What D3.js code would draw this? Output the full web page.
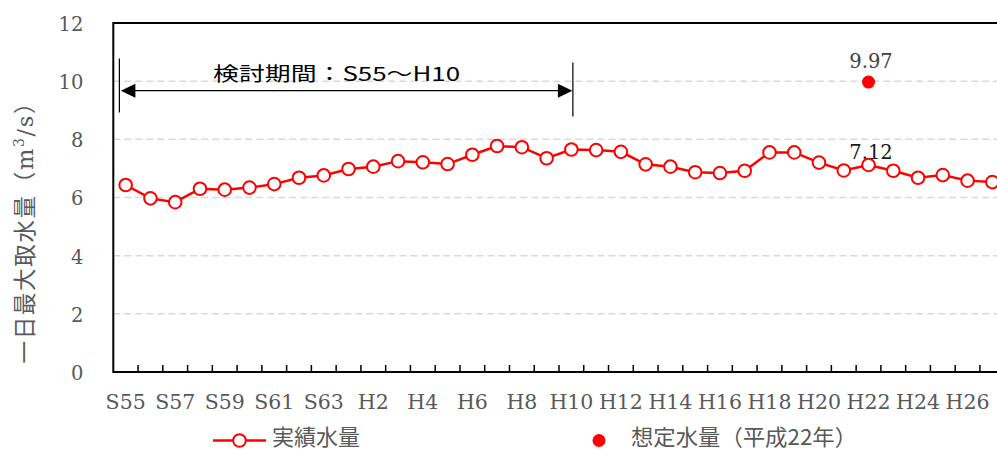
<!DOCTYPE html>
<html><head><meta charset="utf-8">
<script src="https://cdn.jsdelivr.net/npm/d3@7"></script>
<style>
html,body{margin:0;padding:0;background:#fff;overflow:hidden;}
svg{display:block;}
</style></head>
<body>
<svg id="c" width="997" height="450"></svg>
<script>
const categories = ["S55","S56","S57","S58","S59","S60","S61","S62","S63",
  "H1","H2","H3","H4","H5","H6","H7","H8","H9","H10","H11","H12","H13","H14",
  "H15","H16","H17","H18","H19","H20","H21","H22","H23","H24","H25","H26","H27"];
const actual = [6.43,5.97,5.84,6.30,6.27,6.34,6.46,6.68,6.76,
  6.98,7.06,7.25,7.21,7.15,7.47,7.77,7.73,7.35,7.65,7.63,7.57,7.14,7.06,
  6.87,6.84,6.92,7.55,7.55,7.20,6.93,7.12,6.92,6.68,6.77,6.58,6.53];
const plannedCategory = "H22";
const plannedValue = 9.97;
const yTicks = [0,2,4,6,8,10,12];
const xLabels = ["S55","S57","S59","S61","S63","H2","H4","H6","H8","H10","H12","H14","H16","H18","H20","H22","H24","H26"];
const periodStart = "S55", periodEnd = "H10";
const periodLabel = "検討期間：S55～H10";
const seriesNames = ["実績水量","想定水量（平成22年）"];

const svg = d3.select("#c");
const L = 113.3, R = 1004.7, T = 23, B = 372;
const x = d3.scaleBand().domain(categories).range([L, R]).padding(0);
const y = d3.scaleLinear().domain([0, 12]).range([B, T]);
const cx = c => x(c) + x.bandwidth() / 2;
const red = "#ff0000";
const gray = "#595959";
const serif = "'DejaVu Serif', serif";
const jp = "'Noto Sans CJK JP', sans-serif";

// grid
svg.append("g").selectAll("line").data(yTicks.filter(v => v > 0 && v < 12)).join("line")
  .attr("x1", L).attr("x2", R).attr("y1", d => y(d)).attr("y2", d => y(d))
  .attr("stroke", "#d9d9d9").attr("stroke-width", 1.5).attr("stroke-dasharray", "7,4");

// y tick labels
const ya = svg.append("g").attr("transform", `translate(${L},0)`)
  .call(d3.axisLeft(y).tickValues(yTicks).tickSize(0).tickPadding(30).tickFormat(d3.format("d")));
ya.select(".domain").remove();
ya.selectAll("text").attr("font-family", serif).attr("font-size", 19.5).attr("fill", gray).attr("dy", "0.38em");

// x tick labels
const xa = svg.append("g").attr("transform", `translate(0,${B})`)
  .call(d3.axisBottom(x).tickValues(xLabels).tickSize(0).tickPadding(22));
xa.select(".domain").remove();
xa.selectAll("text").attr("font-family", serif).attr("font-size", 20.5).attr("fill", gray);

// tick marks at category boundaries (inward)
svg.append("g").selectAll("line").data(categories.slice(1)).join("line")
  .attr("x1", d => x(d)).attr("x2", d => x(d)).attr("y1", B).attr("y2", B - 7)
  .attr("stroke", "#000").attr("stroke-width", 1.5);

// frame
svg.append("path").attr("d", `M${R},${T}H${L}V${B}H${R}`)
  .attr("fill", "none").attr("stroke", "#000").attr("stroke-width", 2);

// series line
svg.append("path").datum(actual)
  .attr("d", d3.line().x((d, i) => cx(categories[i])).y(d => y(d)))
  .attr("fill", "none").attr("stroke", red).attr("stroke-width", 2.5);
svg.append("g").selectAll("circle").data(actual).join("circle")
  .attr("cx", (d, i) => cx(categories[i])).attr("cy", d => y(d)).attr("r", 6.3)
  .attr("fill", "#fff").attr("stroke", red).attr("stroke-width", 2);

// planned point
svg.append("circle").attr("cx", cx(plannedCategory)).attr("cy", y(plannedValue)).attr("r", 6.5).attr("fill", red);
svg.append("text").attr("x", cx(plannedCategory) + 2.5).attr("y", y(plannedValue) - 14)
  .attr("text-anchor", "middle").attr("font-family", serif).attr("font-size", 19.5).attr("fill", "#404040")
  .text(plannedValue.toFixed(2));
const i22 = categories.indexOf(plannedCategory);
svg.append("text").attr("x", cx(plannedCategory) + 2.5).attr("y", y(actual[i22]) - 6)
  .attr("text-anchor", "middle").attr("font-family", serif).attr("font-size", 19.5).attr("fill", "#1a1a1a")
  .text(actual[i22].toFixed(2));

// period annotation
const ax1 = cx(periodStart) - 6.3, ax2 = cx(periodEnd) + 1.5;
const ay = 90.7;
const ann = svg.append("g");
ann.append("line").attr("x1", ax1).attr("x2", ax1).attr("y1", 58.5).attr("y2", 112.5).attr("stroke", "#000").attr("stroke-width", 1.2);
ann.append("line").attr("x1", ax2).attr("x2", ax2).attr("y1", 62.5).attr("y2", 116.5).attr("stroke", "#000").attr("stroke-width", 1.2);
ann.append("line").attr("x1", ax1 + 14).attr("x2", ax2 - 14).attr("y1", ay).attr("y2", ay).attr("stroke", "#000").attr("stroke-width", 1.2);
ann.append("path").attr("d", `M${ax1 + 1.5},${ay}L${ax1 + 16},${ay - 7}L${ax1 + 16},${ay + 7}Z`).attr("fill", "#000");
ann.append("path").attr("d", `M${ax2 - 0.5},${ay}L${ax2 - 15},${ay - 7}L${ax2 - 15},${ay + 7}Z`).attr("fill", "#000");
ann.append("text").attr("x", 213).attr("y", 81).attr("font-family", jp).attr("font-size", 19.5).attr("fill", "#000")
  .attr("textLength", 247).attr("lengthAdjust", "spacingAndGlyphs").text(periodLabel);

// y axis title
const yt = svg.append("text").attr("transform", "translate(33,227.5) rotate(-90)")
  .attr("text-anchor", "middle").attr("font-size", 22.5).attr("fill", gray)
  .attr("textLength", 272).attr("lengthAdjust", "spacing");
yt.append("tspan").attr("font-family", jp).text("一日最大取水量（");
yt.append("tspan").attr("font-family", serif).text("m");
yt.append("tspan").attr("font-family", serif).attr("font-size", 14).attr("dy", -9).text("3");
yt.append("tspan").attr("font-family", serif).attr("dy", 9).text("/s");
yt.append("tspan").attr("font-family", jp).text("）");

// legend
const lg = svg.append("g");
lg.append("line").attr("x1", 213).attr("x2", 266).attr("y1", 440.5).attr("y2", 440.5).attr("stroke", red).attr("stroke-width", 2.5);
lg.append("circle").attr("cx", 239.5).attr("cy", 440.5).attr("r", 6.3).attr("fill", "#fff").attr("stroke", red).attr("stroke-width", 2);
lg.append("text").attr("x", 272).attr("y", 445).attr("font-family", jp).attr("font-size", 22).attr("fill", gray).text(seriesNames[0]);
lg.append("circle").attr("cx", 599).attr("cy", 440.5).attr("r", 6.5).attr("fill", red);
lg.append("text").attr("x", 631).attr("y", 445).attr("font-family", jp).attr("font-size", 22).attr("fill", gray)
  .attr("textLength", 226).attr("lengthAdjust", "spacingAndGlyphs").text(seriesNames[1]);
</script>
</body></html>
